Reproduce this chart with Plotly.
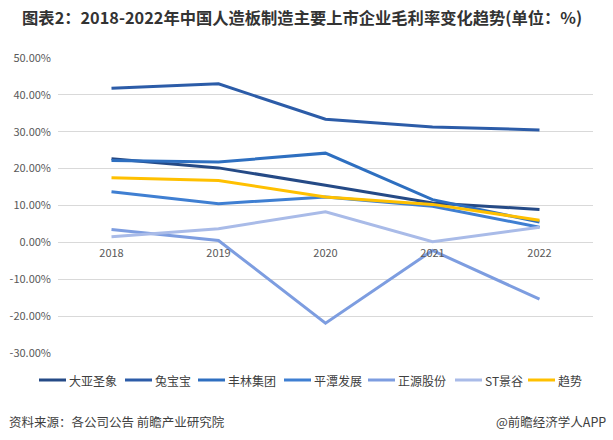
import plotly.graph_objects as go

years = ["2018", "2019", "2020", "2021", "2022"]
series_names = ["大亚圣象", "兔宝宝", "丰林集团", "平潭发展", "正源股份", "ST景谷", "趋势"]
dayashengxiang = [22.7, 20.2, 15.5, 10.7, 8.9]
tubaobao = [41.8, 43.0, 33.4, 31.3, 30.5]
fenglin = [22.2, 21.8, 24.2, 11.6, 5.5]
pingtan = [13.7, 10.5, 12.3, 9.8, 4.1]
zhengyuan = [3.5, 0.5, -21.9, -2.2, -15.4]
stjinggu = [1.5, 3.7, 8.3, 0.2, 4.1]
trend = [17.5, 16.8, 12.3, 10.3, 6.0]
y_ticks = [-30, -20, -10, 0, 10, 20, 30, 40, 50]

values = [dayashengxiang, tubaobao, fenglin, pingtan, zhengyuan, stjinggu, trend]
colors = ["#254a86", "#2c5ca8", "#2e6fc0", "#3f7fd2", "#7d9de0", "#a9bbe8", "#ffc000"]

FONT = "Noto Sans CJK SC"
W, H = 613, 440
L, R, T, B = 58, 20, 58, 87
PW, PH = W - L - R, H - T - B


def px_x(p):
    return (p - L) / PW


def px_y(p):
    return (H - B - p) / PH


fig = go.Figure()
for name, vals, c in zip(series_names, values, colors):
    fig.add_trace(go.Scatter(
        x=years, y=vals, name=name, mode="lines",
        line=dict(color=c, width=3), showlegend=False,
    ))

# legend (drawn as key marks + labels)
legend_x = [39, 125, 198, 284, 368, 455, 528]
leg_y = px_y(380)
for name, c, lx in zip(series_names, colors, legend_x):
    fig.add_shape(type="line", xref="paper", yref="paper",
                  x0=px_x(lx), x1=px_x(lx + 27), y0=leg_y, y1=leg_y,
                  line=dict(color=c, width=3))
    fig.add_annotation(text=name, xref="paper", yref="paper",
                       x=px_x(lx + 28), y=leg_y, xanchor="left", yanchor="middle",
                       showarrow=False,
                       font=dict(family=FONT, size=12, color="#404040"))

fig.update_layout(
    width=W, height=H,
    margin=dict(l=L, r=R, t=T, b=B, autoexpand=False),
    paper_bgcolor="white", plot_bgcolor="white",
    font=dict(family=FONT, size=11, color="#595959"),
    showlegend=False,
    title=dict(
        text="<b>图表2：2018-2022年中国人造板制造主要上市企业毛利率变化趋势(单位：%)</b>",
        x=0.036, xanchor="left", y=0.958, yanchor="middle",
        font=dict(family=FONT, size=16.3, color="#333333"),
    ),
)

fig.update_yaxes(
    range=[-30, 50], tickvals=y_ticks, ticktext=[f"{v:.2f}%" for v in y_ticks],
    showgrid=True, gridcolor="#d9d9d9", gridwidth=1, zeroline=False,
    showline=False, ticks="", ticklabelstandoff=6,
    tickfont=dict(size=11, color="#595959"),
)
fig.update_xaxes(
    type="category", range=[-0.5, 4.5],
    anchor="free", position=(0 - (-30)) / 80,
    showgrid=False, zeroline=False, showline=False, ticks="",
    ticklabelstandoff=3,
    tickfont=dict(size=11, color="#595959"),
)

fig.add_annotation(
    text="资料来源：各公司公告 前瞻产业研究院", xref="paper", yref="paper",
    x=px_x(7), y=px_y(421), xanchor="left", yanchor="middle", showarrow=False,
    font=dict(family=FONT, size=12.5, color="#404040"),
)
fig.add_annotation(
    text="@前瞻经济学人APP", xref="paper", yref="paper",
    x=px_x(608), y=px_y(421), xanchor="right", yanchor="middle", showarrow=False,
    font=dict(family=FONT, size=12.5, color="#404040"),
)

fig.write_html("out.html", config={"displayModeBar": False},
               post_script="document.body.style.margin='0';")
